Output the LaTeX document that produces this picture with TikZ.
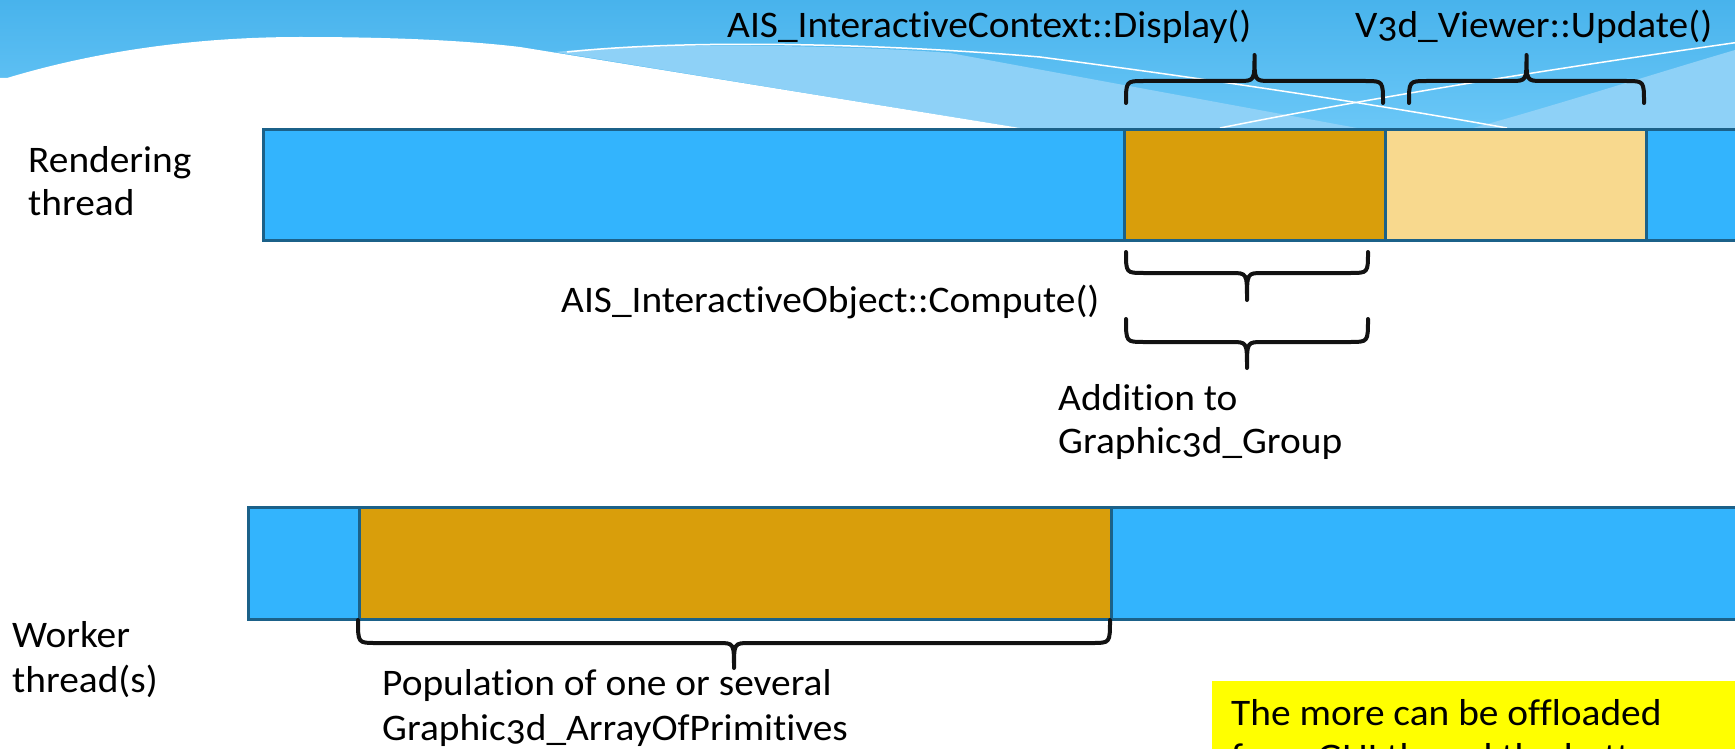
\documentclass[tikz,border=0pt]{standalone}
\usepackage{fontspec}
\setmainfont{Carlito}[Numbers=OldStyle, FakeStretch=1.05, Ligatures=NoCommon]
\usetikzlibrary{calc}
\definecolor{hdrTop}{RGB}{72,179,236}
\definecolor{hdrBot}{RGB}{106,199,247}
\definecolor{hdrLight}{RGB}{142,209,247}
\definecolor{barBlue}{RGB}{51,180,253}
\definecolor{barEdge}{RGB}{27,97,137}
\definecolor{goldSeg}{RGB}{217,158,11}
\definecolor{paleSeg}{RGB}{248,217,142}
\definecolor{noteYellow}{RGB}{255,255,0}
\tikzset{
  lbl/.style={anchor=base west, inner sep=0pt, font=\fontsize{37.5}{44}\selectfont, text=black},
  barbox/.style={anchor=north west, inner sep=0pt, draw=barEdge, line width=3pt},
  bracestyle/.style={draw=black!93, line width=4pt, line cap=round, line join=round},
}
\newcommand\curlybr[5]{% x1 x2 ytip yflat yapex
  \pgfmathsetmacro\bxc{(#1+#2)/2}
  \draw[bracestyle] (#1,#3) .. controls (#1,#4) and (#1,#4) .. ({#1+18},#4)
    -- ({\bxc-16},#4) .. controls (\bxc,#4) and (\bxc,#4) .. (\bxc,#5)
    .. controls (\bxc,#4) and (\bxc,#4) .. ({\bxc+16},#4)
    -- ({#2-18},#4) .. controls (#2,#4) and (#2,#4) .. (#2,#3);
}
\begin{document}
\begin{tikzpicture}[x=1pt,y=-1pt]
\useasboundingbox (0,0) rectangle (1735,749);
\clip (0,0) rectangle (1735,749);
\fill[white] (0,0) rectangle (1735,749);
% header background
\fill[top color=hdrTop, bottom color=hdrBot] (0,0) rectangle (1735,128);
\fill[hdrLight] (555,52) .. controls (650,42) and (850,45) .. (950,53) -- (1357,128) -- (1020,128) -- cycle;
\fill[hdrLight] (1473,128) .. controls (1560,104) and (1650,75) .. (1735,50) -- (1735,128) -- cycle;
\fill[white] (7,78) .. controls (100,50) and (200,37) .. (300,37) .. controls (400,37) and (470,41) .. (520,47) -- (1020,128) -- (0,128) -- (0,78) -- cycle;
\draw[white, line width=1.5pt] (567,52) .. controls (700,38) and (900,45) .. (1040,57) .. controls (1200,78) and (1350,100) .. (1507,128);
\draw[white, line width=1.5pt] (1220,128) .. controls (1400,92) and (1600,62) .. (1740,42);
% rendering thread bar
\node[barbox, fill=barBlue, minimum width=1500pt, minimum height=111pt] (rbar) at (262,128) {};
\node[barbox, fill=goldSeg, minimum width=261pt, minimum height=111pt] (rdisp) at (1123,128) {};
\node[barbox, fill=paleSeg, minimum width=261pt, minimum height=111pt] (rupd) at (1384,128) {};
% worker bar
\node[barbox, fill=barBlue, minimum width=1500pt, minimum height=112pt] (wbar) at (247,506) {};
\node[barbox, fill=goldSeg, minimum width=752pt, minimum height=112pt] (wpop) at (358,506) {};
% yellow note
\node[anchor=north west, inner sep=0pt, fill=noteYellow, minimum width=530pt, minimum height=80pt] (note) at (1212,681) {};
\node[lbl] (note1) at (1231,725) {The more can be offloaded};
\node[lbl] (note2) at (1231,769) {from GUI thread the better};
% left labels
\node[lbl] (rl1) at (28,172) {Rendering};
\node[lbl] (rl2) at (28,215) {thread};
\node[lbl] (wl1) at (12,647) {Worker};
\node[lbl] (wl2) at (12,692) {thread(s)};
% braces
\curlybr{1126}{1383}{103}{81}{55}
\curlybr{1409}{1644}{103}{81}{55}
\curlybr{1126}{1368}{252}{273}{300}
\curlybr{1126}{1368}{319}{342}{368}
\curlybr{358}{1110}{620}{643}{668}
% brace labels
\node[lbl] (disp) at (727,38) {AIS\_InteractiveContext::Display()};
\node[lbl] (upd) at (1355,38) {V3d\_Viewer::Update()};
\node[lbl] (comp) at (561,312) {AIS\_InteractiveObject::Compute()};
\node[lbl] (add1) at (1058,410) {Addition to};
\node[lbl] (add2) at (1058,453) {Graphic3d\_Group};
\node[lbl] (pop1) at (382,695) {Population of one or several};
\node[lbl] (pop2) at (382,740) {Graphic3d\_ArrayOfPrimitives};
\end{tikzpicture}
\end{document}
